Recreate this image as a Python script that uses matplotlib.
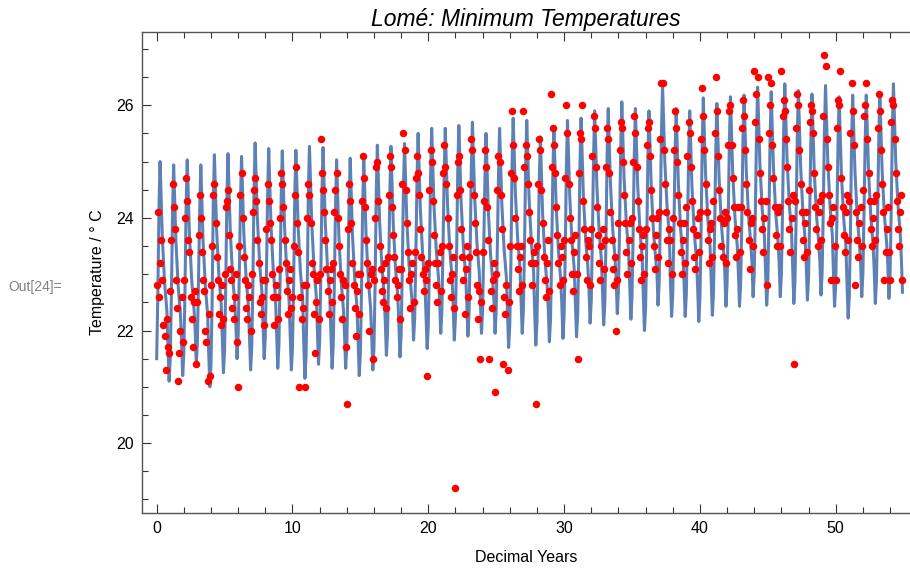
import numpy as np
import matplotlib
matplotlib.use("Agg")
import matplotlib.pyplot as plt
from matplotlib.ticker import MultipleLocator

plt.rcParams["font.family"] = ["Liberation Sans", "DejaVu Sans"]

# monthly minimum temperatures, one row per year (12 months)
observed = [
    [22.8, 24.1, 22.6, 23.2, 23.6, 22.9, 22.1, 21.9, 21.3, 22.2, 21.7, 21.6],
    [22.7, 23.6, 24.6, 24.2, 23.8, 22.9, 22.4, 21.1, 21.6, 22.0, 22.6, 21.8],
    [22.9, 24.0, 24.7, 24.3, 23.6, 23.4, 22.6, 22.2, 21.7, 22.5, 22.7, 21.4],
    [22.5, 23.7, 24.4, 24.0, 23.4, 22.9, 22.7, 22.0, 21.8, 21.1, 22.3, 21.2],
    [22.8, 23.5, 24.4, 24.6, 23.9, 23.3, 22.9, 22.3, 22.6, 22.1, 22.8, 22.2],
    [23.0, 24.2, 24.3, 24.5, 23.7, 23.1, 22.9, 22.4, 22.2, 22.6, 23.0, 21.8],
    [21.0, 23.5, 24.4, 24.8, 24.0, 23.3, 22.9, 22.4, 22.2, 22.8, 22.6, 22.0],
    [23.0, 24.1, 24.5, 24.7, 24.3, 23.6, 23.2, 22.5, 22.3, 22.6, 22.9, 22.1],
    [22.9, 23.8, 24.6, 24.3, 23.9, 23.6, 23.0, 22.6, 22.1, 22.8, 22.6, 22.2],
    [23.1, 24.0, 24.8, 24.6, 24.2, 23.6, 23.2, 22.7, 22.3, 22.9, 23.1, 22.4],
    [22.6, 23.5, 24.4, 24.9, 23.9, 23.4, 21.0, 22.6, 22.2, 22.4, 22.8, 21.0],
    [22.8, 24.0, 24.6, 24.4, 23.9, 23.2, 23.0, 22.3, 21.6, 22.5, 22.9, 22.2],
    [23.0, 25.4, 24.8, 24.5, 24.1, 23.6, 23.1, 22.7, 22.3, 22.9, 23.1, 22.5],
    [23.2, 24.1, 24.5, 24.8, 24.0, 23.5, 23.0, 22.6, 22.2, 22.9, 22.8, 21.7],
    [20.7, 23.8, 24.6, 24.3, 23.9, 23.2, 22.8, 22.4, 21.9, 22.7, 23.0, 22.3],
    [23.0, 24.3, 25.1, 24.7, 24.2, 23.6, 23.2, 22.8, 22.0, 23.0, 23.1, 21.5],
    [22.9, 24.0, 24.9, 25.0, 24.3, 23.5, 23.1, 22.7, 22.5, 22.9, 23.2, 22.4],
    [23.3, 24.4, 25.1, 24.9, 24.2, 23.7, 23.3, 22.9, 22.6, 22.8, 23.1, 22.2],
    [23.1, 24.6, 25.5, 25.2, 24.5, 23.9, 23.4, 22.9, 22.4, 23.0, 23.2, 22.5],
    [23.4, 24.7, 25.1, 24.8, 24.4, 23.8, 23.3, 23.0, 22.7, 23.1, 22.9, 21.2],
    [23.2, 24.5, 25.2, 25.0, 24.3, 23.7, 23.2, 22.8, 22.5, 23.2, 23.4, 22.7],
    [23.5, 24.8, 25.3, 24.9, 24.6, 24.0, 23.5, 22.9, 22.6, 23.0, 23.3, 22.4],
    [19.2, 24.4, 25.0, 25.1, 24.5, 23.8, 23.3, 22.9, 22.3, 23.1, 23.5, 22.6],
    [23.3, 24.6, 25.4, 25.2, 24.4, 23.9, 23.4, 22.8, 22.2, 22.7, 21.5, 22.5],
    [23.4, 24.3, 25.2, 24.9, 24.2, 23.6, 21.5, 22.7, 22.4, 22.9, 23.2, 20.9],
    [23.0, 24.5, 25.1, 25.0, 24.4, 23.8, 21.4, 22.6, 22.3, 22.8, 21.3, 22.5],
    [23.5, 24.8, 25.9, 25.3, 24.7, 24.0, 23.5, 23.1, 22.7, 23.3, 23.5, 22.8],
    [25.9, 24.9, 25.3, 25.1, 24.6, 24.1, 23.6, 23.2, 22.8, 23.4, 23.2, 20.7],
    [23.5, 24.6, 25.4, 25.2, 24.5, 23.9, 23.3, 22.9, 22.6, 23.2, 23.6, 22.7],
    [26.2, 24.9, 25.6, 25.3, 24.8, 24.2, 23.7, 23.2, 22.8, 23.5, 23.3, 22.9],
    [23.6, 24.7, 26.0, 25.5, 24.6, 24.0, 23.6, 23.0, 22.7, 23.4, 23.7, 23.0],
    [21.5, 24.8, 25.5, 25.4, 26.0, 24.3, 23.8, 23.3, 22.9, 23.6, 23.5, 22.8],
    [23.8, 25.1, 25.8, 25.6, 24.9, 24.2, 23.7, 23.2, 22.9, 23.5, 23.8, 23.1],
    [23.6, 24.9, 25.6, 25.4, 24.8, 24.1, 23.6, 23.1, 22.8, 23.3, 22.0, 22.9],
    [23.9, 25.2, 25.7, 25.6, 25.0, 24.4, 23.9, 23.4, 23.0, 23.6, 23.9, 23.2],
    [24.0, 25.0, 25.8, 25.5, 24.9, 24.3, 23.8, 23.3, 22.9, 23.5, 23.7, 23.0],
    [23.8, 25.3, 25.6, 25.7, 25.1, 24.5, 24.0, 23.5, 23.1, 23.7, 24.0, 23.3],
    [24.1, 25.4, 26.4, 26.4, 25.2, 24.6, 24.1, 23.6, 23.2, 23.8, 23.6, 23.0],
    [24.0, 25.2, 25.9, 25.6, 25.0, 24.4, 23.9, 23.4, 23.0, 23.6, 23.9, 23.2],
    [24.2, 25.1, 25.7, 25.5, 24.9, 24.3, 23.8, 23.3, 23.1, 23.7, 24.0, 23.4],
    [24.1, 25.4, 26.3, 25.8, 25.2, 24.6, 24.1, 23.6, 23.2, 23.8, 23.9, 23.3],
    [24.3, 25.5, 26.5, 25.9, 25.1, 24.5, 24.0, 23.5, 23.3, 23.9, 24.1, 23.2],
    [24.0, 25.3, 25.9, 26.0, 25.3, 24.7, 24.2, 23.7, 23.3, 23.8, 24.2, 23.4],
    [24.2, 25.6, 26.1, 25.8, 25.2, 24.6, 24.1, 23.6, 23.1, 23.9, 24.0, 23.5],
    [26.6, 25.7, 26.2, 26.5, 25.4, 24.8, 24.3, 23.8, 23.4, 24.0, 24.3, 22.8],
    [26.5, 25.5, 26.0, 26.4, 25.3, 24.7, 24.2, 23.7, 23.5, 24.1, 24.2, 23.5],
    [26.6, 25.8, 26.1, 25.9, 25.4, 24.9, 24.3, 23.8, 23.4, 24.0, 24.4, 21.4],
    [24.3, 25.6, 26.2, 26.0, 25.2, 24.6, 24.1, 23.6, 23.3, 23.9, 24.1, 23.4],
    [24.5, 25.7, 26.0, 25.9, 25.5, 24.8, 24.2, 23.8, 23.5, 24.1, 24.3, 23.6],
    [24.4, 25.8, 26.9, 26.7, 25.4, 24.9, 24.4, 23.9, 22.9, 24.0, 24.2, 23.5],
    [22.9, 25.6, 26.1, 26.0, 26.6, 24.7, 24.2, 23.7, 23.4, 24.1, 24.4, 23.6],
    [24.3, 25.5, 26.4, 25.9, 25.3, 22.8, 24.1, 23.6, 23.3, 23.9, 24.2, 23.5],
    [24.5, 25.8, 26.0, 26.4, 25.4, 24.8, 24.3, 23.8, 23.5, 24.0, 24.3, 23.6],
    [24.4, 25.6, 26.2, 25.9, 25.2, 24.6, 24.1, 22.9, 23.4, 23.8, 24.2, 23.4],
    [22.9, 25.7, 26.1, 26.0, 25.4, 24.8, 24.3, 23.8, 23.5, 24.1, 24.4, 22.9],
]

# fitted model evaluated at the same months
model = [
    [21.5, 22.6, 24.15, 25.0, 24.3, 23.65, 23.25, 22.85, 22.6, 22.35, 21.7, 21.1],
    [21.5, 22.6, 24.09, 24.94, 24.24, 23.59, 23.19, 22.79, 22.54, 22.29, 21.8, 21.2],
    [21.6, 22.7, 24.18, 25.03, 24.33, 23.68, 23.28, 22.88, 22.63, 22.38, 22.0, 21.4],
    [21.8, 22.9, 24.09, 24.94, 24.24, 23.59, 23.19, 22.79, 22.54, 22.29, 21.6, 21.0],
    [21.4, 22.5, 24.27, 25.12, 24.42, 23.77, 23.37, 22.97, 22.72, 22.47, 21.85, 21.25],
    [21.65, 22.75, 24.29, 25.14, 24.44, 23.79, 23.39, 22.99, 22.74, 22.49, 22.1, 21.5],
    [21.9, 23.0, 24.24, 25.09, 24.39, 23.74, 23.34, 22.94, 22.69, 22.44, 21.9, 21.3],
    [21.7, 22.8, 24.48, 25.33, 24.63, 23.98, 23.58, 23.18, 22.93, 22.68, 22.1, 21.5],
    [21.9, 23.0, 24.38, 25.23, 24.53, 23.88, 23.48, 23.08, 22.83, 22.58, 21.93, 21.33],
    [21.73, 22.83, 24.34, 25.19, 24.49, 23.84, 23.44, 23.04, 22.79, 22.54, 21.9, 21.3],
    [21.7, 22.8, 24.35, 25.2, 24.5, 23.85, 23.45, 23.05, 22.8, 22.55, 21.75, 21.15],
    [21.55, 22.65, 24.42, 25.27, 24.57, 23.92, 23.52, 23.12, 22.87, 22.62, 22.0, 21.4],
    [21.8, 22.9, 24.4, 25.25, 24.55, 23.9, 23.5, 23.1, 22.85, 22.6, 21.93, 21.33],
    [21.73, 22.83, 24.18, 25.03, 24.33, 23.68, 23.28, 22.88, 22.63, 22.38, 21.93, 21.33],
    [21.73, 22.83, 24.21, 25.06, 24.36, 23.71, 23.31, 22.91, 22.66, 22.41, 21.8, 21.2],
    [21.6, 22.7, 24.21, 25.06, 24.36, 23.71, 23.31, 22.91, 22.66, 22.41, 21.9, 21.3],
    [21.7, 22.8, 24.44, 25.29, 24.59, 23.94, 23.54, 23.14, 22.89, 22.64, 22.16, 21.56],
    [21.96, 23.06, 24.42, 25.27, 24.57, 23.92, 23.52, 23.12, 22.87, 22.62, 22.13, 21.53],
    [21.93, 23.03, 24.47, 25.32, 24.62, 23.97, 23.57, 23.17, 22.92, 22.67, 22.43, 21.83],
    [22.23, 23.33, 24.65, 25.5, 24.8, 24.15, 23.75, 23.35, 23.1, 22.85, 22.28, 21.68],
    [22.08, 23.18, 24.74, 25.59, 24.89, 24.24, 23.84, 23.44, 23.19, 22.94, 22.55, 21.95],
    [22.35, 23.45, 24.74, 25.59, 24.89, 24.24, 23.84, 23.44, 23.19, 22.94, 22.43, 21.83],
    [22.23, 23.33, 24.79, 25.64, 24.94, 24.29, 23.89, 23.49, 23.24, 22.99, 22.5, 21.9],
    [22.3, 23.4, 24.85, 25.7, 25.0, 24.35, 23.95, 23.55, 23.3, 23.05, 22.55, 21.95],
    [22.35, 23.45, 24.65, 25.5, 24.8, 24.15, 23.75, 23.35, 23.1, 22.85, 22.55, 21.95],
    [22.35, 23.45, 24.74, 25.59, 24.89, 24.24, 23.84, 23.44, 23.19, 22.94, 22.3, 21.7],
    [22.1, 23.2, 24.92, 25.77, 25.07, 24.42, 24.02, 23.62, 23.37, 23.12, 22.55, 21.95],
    [22.35, 23.45, 24.88, 25.73, 25.03, 24.38, 23.98, 23.58, 23.33, 23.08, 22.34, 21.74],
    [22.14, 23.24, 24.59, 25.44, 24.74, 24.09, 23.69, 23.29, 23.04, 22.79, 22.4, 21.8],
    [22.2, 23.3, 24.71, 25.56, 24.86, 24.21, 23.81, 23.41, 23.16, 22.91, 22.46, 21.86],
    [22.26, 23.36, 24.88, 25.73, 25.03, 24.38, 23.98, 23.58, 23.33, 23.08, 22.49, 21.89],
    [22.29, 23.39, 24.92, 25.77, 25.07, 24.42, 24.02, 23.62, 23.37, 23.12, 22.73, 22.13],
    [22.53, 23.63, 25.05, 25.9, 25.2, 24.55, 24.15, 23.75, 23.5, 23.25, 22.7, 22.1],
    [22.5, 23.6, 25.09, 25.94, 25.24, 24.59, 24.19, 23.79, 23.54, 23.29, 22.9, 22.3],
    [22.7, 23.8, 25.21, 26.06, 25.36, 24.71, 24.31, 23.91, 23.66, 23.41, 22.8, 22.2],
    [22.6, 23.7, 25.09, 25.94, 25.24, 24.59, 24.19, 23.79, 23.54, 23.29, 22.6, 22.0],
    [22.4, 23.5, 25.05, 25.9, 25.2, 24.55, 24.15, 23.75, 23.5, 23.25, 23.05, 22.45],
    [22.85, 23.95, 25.5, 26.35, 25.65, 25.0, 24.6, 24.2, 23.95, 23.7, 22.85, 22.25],
    [22.65, 23.75, 25.09, 25.94, 25.24, 24.59, 24.19, 23.79, 23.54, 23.29, 22.85, 22.25],
    [22.65, 23.75, 25.05, 25.9, 25.2, 24.55, 24.15, 23.75, 23.5, 23.25, 22.76, 22.16],
    [22.56, 23.66, 25.28, 26.13, 25.43, 24.78, 24.38, 23.98, 23.73, 23.48, 22.87, 22.27],
    [22.67, 23.77, 25.18, 26.03, 25.33, 24.68, 24.28, 23.88, 23.63, 23.38, 23.03, 22.43],
    [22.83, 23.93, 25.3, 26.15, 25.45, 24.8, 24.4, 24.0, 23.75, 23.5, 23.03, 22.43],
    [22.83, 23.93, 25.33, 26.18, 25.48, 24.83, 24.43, 24.03, 23.78, 23.53, 23.2, 22.6],
    [23.0, 24.1, 25.47, 26.32, 25.62, 24.97, 24.57, 24.17, 23.92, 23.67, 23.05, 22.45],
    [22.85, 23.95, 25.39, 26.24, 25.54, 24.89, 24.49, 24.09, 23.84, 23.59, 23.2, 22.6],
    [23.0, 24.1, 25.53, 26.38, 25.68, 25.03, 24.63, 24.23, 23.98, 23.73, 23.08, 22.48],
    [22.88, 23.98, 25.41, 26.26, 25.56, 24.91, 24.51, 24.11, 23.86, 23.61, 23.14, 22.54],
    [22.94, 24.04, 25.35, 26.2, 25.5, 24.85, 24.45, 24.05, 23.8, 23.55, 23.23, 22.63],
    [23.03, 24.13, 25.5, 26.35, 25.65, 25.0, 24.6, 24.2, 23.95, 23.7, 23.03, 22.43],
    [22.83, 23.93, 25.3, 26.15, 25.45, 24.8, 24.4, 24.0, 23.75, 23.5, 22.82, 22.22],
    [22.62, 23.72, 25.33, 26.18, 25.48, 24.83, 24.43, 24.03, 23.78, 23.53, 23.2, 22.6],
    [23.0, 24.1, 25.33, 26.18, 25.48, 24.83, 24.43, 24.03, 23.78, 23.53, 23.08, 22.48],
    [22.88, 23.98, 25.35, 26.2, 25.5, 24.85, 24.45, 24.05, 23.8, 23.55, 23.17, 22.57],
    [22.97, 24.07, 25.53, 26.38, 25.68, 25.03, 24.63, 24.23, 23.98, 23.73, 23.28, 22.68],
]

n_years = len(observed)
decimal_years = np.arange(n_years * 12) / 12.0
obs = np.array(observed).ravel()
fit = np.array(model).ravel()

fig = plt.figure(figsize=(9.1, 5.71), dpi=100)
ax = fig.add_axes([142 / 910, 1 - 513 / 571, 768 / 910, (513 - 32) / 571])

ax.plot(decimal_years, fit, color="#5E81B5", lw=2.2, zorder=2)
ax.plot(decimal_years, obs, "o", color="#FF0000", ms=5.4, mew=0, zorder=3)

ax.set_xlim(-1.08, 55.47)
ax.set_ylim(18.76, 27.30)

ax.xaxis.set_major_locator(MultipleLocator(10))
ax.xaxis.set_minor_locator(MultipleLocator(2))
ax.yaxis.set_major_locator(MultipleLocator(2))
ax.yaxis.set_minor_locator(MultipleLocator(0.5))
ax.tick_params(which="both", direction="in", top=True, right=False,
               labelsize=11.5, color="#333333", width=0.8, pad=6)
ax.tick_params(which="major", length=6.5)
ax.tick_params(which="minor", length=4)
ax.spines["right"].set_visible(False)
for side in ["left", "bottom", "top"]:
    ax.spines[side].set_color("#555555")
    ax.spines[side].set_linewidth(1.0)

ax.set_xlabel("Decimal Years", fontsize=11.5, labelpad=10)
ax.set_ylabel("Temperature / ° C", fontsize=11.5, labelpad=8)
ax.set_title("Lomé: Minimum Temperatures", fontsize=16.5, style="italic", pad=4)

fig.text(8 / 910, 1 - 287 / 571, "Out[24]=", fontsize=10, color="#808080",
         va="center", ha="left")

fig.savefig("out.png", dpi=100)
